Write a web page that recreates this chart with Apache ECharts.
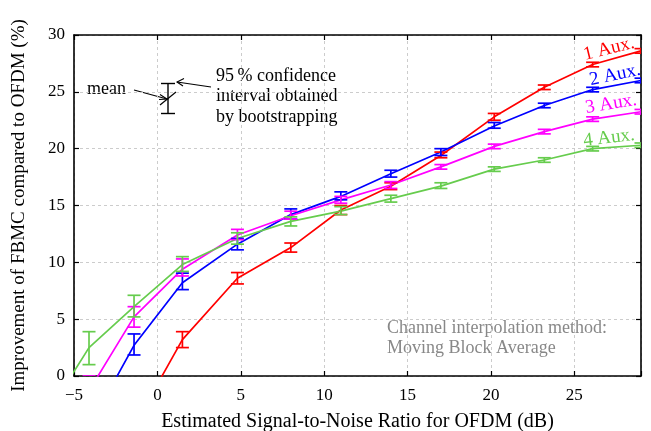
<!DOCTYPE html>
<html><head><meta charset="utf-8">
<script src="https://cdn.jsdelivr.net/npm/echarts@6/dist/echarts.min.js"></script>
<style>html,body{margin:0;padding:0;background:#fff}#c{width:651px;height:431px}</style>
</head><body><div id="c"></div>
<script>
// ---- data ----
const xTicks = [-5, 0, 5, 10, 15, 20, 25];
const yTicks = [0, 5, 10, 15, 20, 25, 30];

const redX    = [-1.4, 1.5, 4.8, 8, 11, 14, 17, 20.2, 23.2, 26.1, 29];
const redMean = [-4.4, 3.2, 8.6, 11.3, 14.6, 16.7, 19.4, 22.8, 25.4, 27.4, 28.6];
const redLo   = [-5.2, 2.5, 8.1, 10.9, 14.2, 16.4, 19.2, 22.5, 25.2, 27.2, 28.4];
const redHi   = [-3.6, 3.9, 9.1, 11.7, 15.0, 17.0, 19.7, 23.1, 25.6, 27.6, 28.8];

const blueX    = [-4.1, -1.4, 1.5, 4.8, 8, 11, 14, 17, 20.2, 23.2, 26.1, 29];
const blueMean = [-4.5, 2.7, 8.2, 11.6, 14.2, 15.8, 17.8, 19.7, 22.0, 23.8, 25.2, 26.0];
const blueLo   = [-5.5, 1.85, 7.6, 11.1, 13.8, 15.5, 17.5, 19.4, 21.8, 23.6, 25.0, 25.8];
const blueHi   = [-3.5, 3.7, 9.05, 12.1, 14.7, 16.2, 18.1, 20.0, 22.3, 24.0, 25.4, 26.2];

const magX    = [-4.1, -1.4, 1.5, 4.8, 8, 11, 14, 17, 20.2, 23.2, 26.1, 29];
const magMean = [-1.3, 5.2, 9.4, 12.4, 14.1, 15.5, 16.8, 18.4, 20.2, 21.5, 22.6, 23.25];
const magLo   = [-2.6, 4.3, 8.8, 12.0, 13.8, 15.2, 16.5, 18.2, 20.0, 21.3, 22.4, 23.05];
const magHi   = [0.0, 6.1, 10.3, 12.9, 14.5, 15.8, 17.1, 18.6, 20.4, 21.7, 22.8, 23.45];

const grnX    = [-7, -4.1, -1.4, 1.5, 4.8, 8, 11, 14, 17, 20.2, 23.2, 26.1, 29];
const grnMean = [-4.3, 2.5, 6.1, 9.8, 12.1, 13.6, 14.5, 15.6, 16.7, 18.2, 19.0, 20.0, 20.3];
const grnLo   = [-5.0, 1.0, 5.2, 9.2, 11.6, 13.2, 14.2, 15.3, 16.5, 18.0, 18.8, 19.8, 20.1];
const grnHi   = [-3.6, 3.9, 7.1, 10.5, 12.6, 14.0, 14.9, 15.9, 17.0, 18.4, 19.2, 20.2, 20.5];

const seriesNames = ['1 Aux.', '2 Aux.', '3 Aux.', '4 Aux.'];
const colors = ['#ff0000', '#0000ff', '#ff00ff', '#66cc4d'];

// ---- chart ----
const FONT = '"Liberation Serif", "DejaVu Serif", serif';
const sets = [
  [redX, redMean, redLo, redHi],
  [blueX, blueMean, blueLo, blueHi],
  [magX, magMean, magLo, magHi],
  [grnX, grnMean, grnLo, grnHi]
];
const chart = echarts.init(document.getElementById('c'), null, {renderer: 'canvas'});
const minus = v => String(v).replace('-', '\u2212');
const series = [];
sets.forEach((s, i) => {
  const [xs, m, lo, hi] = s;
  series.push({
    name: seriesNames[i], type: 'line', data: xs.map((x, k) => [x, m[k]]),
    showSymbol: false, clip: true, lineStyle: {color: colors[i], width: 1.7}, z: 3,
    animation: false
  });
  series.push({
    type: 'custom', clip: true, z: 4, animation: false,
    data: xs.map((x, k) => [x, lo[k], hi[k]]),
    renderItem: (params, api) => {
      const a = api.coord([api.value(0), api.value(1)]);
      const b = api.coord([api.value(0), api.value(2)]);
      const w = 6.5;
      const st = {stroke: colors[i], lineWidth: 1.7};
      return {type: 'group', children: [
        {type: 'line', shape: {x1: a[0], y1: a[1], x2: b[0], y2: b[1]}, style: st},
        {type: 'line', shape: {x1: a[0]-w, y1: a[1], x2: a[0]+w, y2: a[1]}, style: st},
        {type: 'line', shape: {x1: b[0]-w, y1: b[1], x2: b[0]+w, y2: b[1]}, style: st}
      ]};
    }
  });
});

const axisCommon = {
  axisLine: {show: true, onZero: false, lineStyle: {color: '#000', width: 1.6}},
  axisTick: {show: true, inside: true, length: 5, lineStyle: {color: '#000', width: 1.2}},
};
const gridLine = {show: true, lineStyle: {color: '#cccccc', type: [3, 3], width: 1}};

const option = {
  animation: false,
  grid: {left: 74, right: 10, top: 35, bottom: 55, containLabel: false, outerBoundsMode: 'none'},
  xAxis: [
    Object.assign({type: 'value', min: -5, max: 29, interval: 5, position: 'bottom',
      axisLabel: {color: '#000', fontFamily: FONT, fontSize: 17, margin: 11,
        formatter: v => xTicks.includes(v) ? minus(v) : ''},
      splitLine: gridLine,
      name: 'Estimated Signal-to-Noise Ratio for OFDM (dB)', nameLocation: 'middle', nameGap: 36,
      nameTextStyle: {color: '#000', fontFamily: FONT, fontSize: 20}}, axisCommon),
    Object.assign({type: 'value', min: -5, max: 29, interval: 5, position: 'top',
      axisLabel: {show: false}, splitLine: {show: false}}, axisCommon)
  ],
  yAxis: [
    Object.assign({type: 'value', min: 0, max: 30, interval: 5, position: 'left',
      axisLabel: {color: '#000', fontFamily: FONT, fontSize: 17, margin: 9,
        formatter: v => yTicks.includes(v) ? String(v) : ''},
      splitLine: gridLine,
      name: 'Improvement of FBMC compared to OFDM (%)', nameLocation: 'middle', nameGap: 45,
      nameTextStyle: {color: '#000', fontFamily: FONT, fontSize: 19}}, axisCommon),
    Object.assign({type: 'value', min: 0, max: 30, interval: 5, position: 'right',
      axisLabel: {show: false}, splitLine: {show: false}}, axisCommon)
  ],
  series: series,
  graphic: [
    // rotated series labels
    {type: 'text', x: 609, y: 49, rotation: 0.24, style: {text: seriesNames[0], fill: colors[0], font: '19px ' + FONT, textAlign: 'center', textVerticalAlign: 'middle'}},
    {type: 'text', x: 615, y: 75, rotation: 0.21, style: {text: seriesNames[1], fill: colors[1], font: '19px ' + FONT, textAlign: 'center', textVerticalAlign: 'middle'}},
    {type: 'text', x: 611, y: 104, rotation: 0.16, style: {text: seriesNames[2], fill: colors[2], font: '19px ' + FONT, textAlign: 'center', textVerticalAlign: 'middle'}},
    {type: 'text', x: 609, y: 138, rotation: 0.12, style: {text: seriesNames[3], fill: colors[3], font: '19px ' + FONT, textAlign: 'center', textVerticalAlign: 'middle'}},
    // explanatory error bar
    {type: 'line', shape: {x1: 168, y1: 83.5, x2: 168, y2: 113.5}, style: {stroke: '#000', lineWidth: 1.4}},
    {type: 'line', shape: {x1: 161, y1: 83.5, x2: 175, y2: 83.5}, style: {stroke: '#000', lineWidth: 1.4}},
    {type: 'line', shape: {x1: 161, y1: 113.5, x2: 175, y2: 113.5}, style: {stroke: '#000', lineWidth: 1.4}},
    {type: 'line', shape: {x1: 160, y1: 105, x2: 176, y2: 92}, style: {stroke: '#000', lineWidth: 1.2}},
    // mean arrow
    {type: 'line', shape: {x1: 134, y1: 90, x2: 167, y2: 99}, style: {stroke: '#000', lineWidth: 1.1}},
    {type: 'polyline', shape: {points: [[160, 94.5], [167, 99], [159, 99.5]]}, style: {stroke: '#000', fill: null, lineWidth: 1.1}},
    // CI arrow
    {type: 'line', shape: {x1: 211, y1: 87, x2: 177, y2: 82}, style: {stroke: '#000', lineWidth: 1.1}},
    {type: 'polyline', shape: {points: [[184, 78.5], [177, 82], [183, 86]]}, style: {stroke: '#000', fill: null, lineWidth: 1.1}},
    {type: 'text', x: 87, y: 89, style: {text: 'mean', fill: '#000', font: '18px ' + FONT, textVerticalAlign: 'middle'}},
    {type: 'text', x: 216, y: 66, style: {text: '95\u2009% confidence\ninterval obtained\nby bootstrapping', fill: '#000', font: '18px ' + FONT, lineHeight: 20.5}},
    {type: 'text', x: 387, y: 318, style: {text: 'Channel interpolation method:\nMoving Block Average', fill: '#888888', font: '18px ' + FONT, lineHeight: 20.5}}
  ]
};
chart.setOption(option);
</script></body></html>
